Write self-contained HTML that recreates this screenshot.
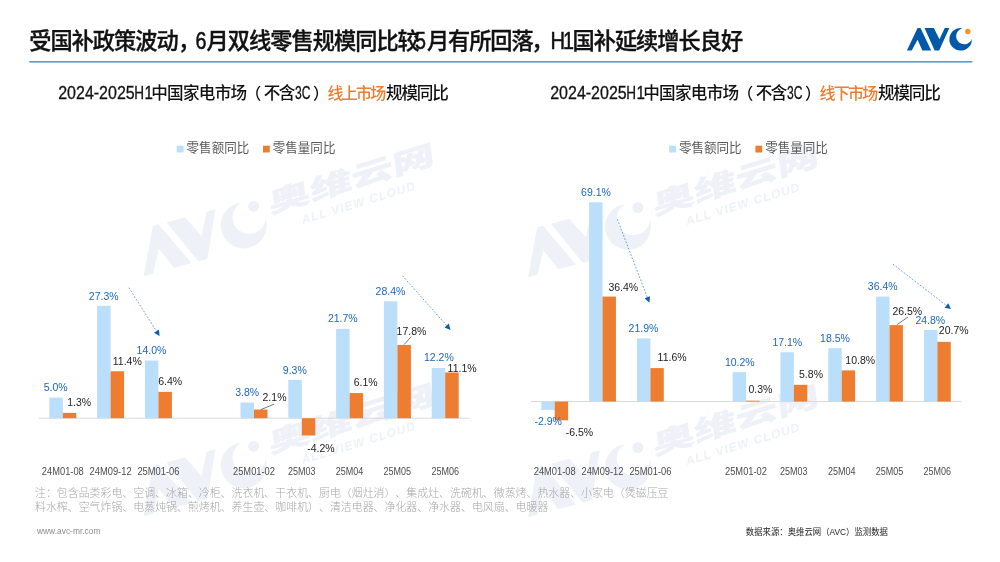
<!DOCTYPE html>
<html lang="zh-CN">
<head>
<meta charset="utf-8">
<title>受国补政策波动，6月双线零售规模同比较5月有所回落，H1国补延续增长良好</title>
<style>
html,body{margin:0;padding:0;background:#fff;}
body{width:1000px;height:562px;overflow:hidden;font-family:"Liberation Sans","Noto Sans CJK SC",sans-serif;}
svg{display:block;}
svg text{text-spacing-trim:space-all;}
</style>
</head>
<body>
<svg width="1000" height="562" viewBox="0 0 1000 562" font-family='"Liberation Sans","Noto Sans CJK SC",sans-serif'>
<rect width="1000" height="562" fill="#ffffff"/>
<g transform="translate(143.7,276) rotate(-17)" fill="#eef1f8">
<g transform="rotate(2) scale(2.04)"><polygon fill="#eef1f8" points="0,0 10.67,-22.5 13.6,-22.5 24.28,0 15.47,0 10.67,-10.93 4.8,0"/><polygon fill="#eef1f8" points="17.61,-22.5 26.95,-22.5 32.55,-11.46 37.88,-22.5 42.42,-22.5 32.28,0 27.75,0"/><path fill="#eef1f8" d="M55.70,-22.33 A11.25,11.25 0 1 0 64.99,-11.71 A8.1,8.1 0 1 1 55.70,-22.33 Z"/><circle fill="#eef1f8" cx="60.9" cy="-19.1" r="2.7"/></g>
<text transform="translate(139,-22.5) skewX(-10)" font-size="27" font-weight="900" fill="#eef1f8" stroke="#eef1f8" stroke-width="0.3" textLength="173" lengthAdjust="spacingAndGlyphs">奥维云网</text>
<text x="167.5" y="-3.2" font-size="12" font-weight="700" font-style="italic" fill="#eef1f8" textLength="118" lengthAdjust="spacing">ALL VIEW CLOUD</text>
</g>
<g transform="translate(143.7,516) rotate(-17)" fill="#eef1f8">
<g transform="rotate(2) scale(2.04)"><polygon fill="#eef1f8" points="0,0 10.67,-22.5 13.6,-22.5 24.28,0 15.47,0 10.67,-10.93 4.8,0"/><polygon fill="#eef1f8" points="17.61,-22.5 26.95,-22.5 32.55,-11.46 37.88,-22.5 42.42,-22.5 32.28,0 27.75,0"/><path fill="#eef1f8" d="M55.70,-22.33 A11.25,11.25 0 1 0 64.99,-11.71 A8.1,8.1 0 1 1 55.70,-22.33 Z"/><circle fill="#eef1f8" cx="60.9" cy="-19.1" r="2.7"/></g>
<text transform="translate(139,-22.5) skewX(-10)" font-size="27" font-weight="900" fill="#eef1f8" stroke="#eef1f8" stroke-width="0.3" textLength="173" lengthAdjust="spacingAndGlyphs">奥维云网</text>
<text x="167.5" y="-3.2" font-size="12" font-weight="700" font-style="italic" fill="#eef1f8" textLength="118" lengthAdjust="spacing">ALL VIEW CLOUD</text>
</g>
<g transform="translate(528,277.3) rotate(-17)" fill="#eef1f8">
<g transform="rotate(2) scale(2.04)"><polygon fill="#eef1f8" points="0,0 10.67,-22.5 13.6,-22.5 24.28,0 15.47,0 10.67,-10.93 4.8,0"/><polygon fill="#eef1f8" points="17.61,-22.5 26.95,-22.5 32.55,-11.46 37.88,-22.5 42.42,-22.5 32.28,0 27.75,0"/><path fill="#eef1f8" d="M55.70,-22.33 A11.25,11.25 0 1 0 64.99,-11.71 A8.1,8.1 0 1 1 55.70,-22.33 Z"/><circle fill="#eef1f8" cx="60.9" cy="-19.1" r="2.7"/></g>
<text transform="translate(139,-22.5) skewX(-10)" font-size="27" font-weight="900" fill="#eef1f8" stroke="#eef1f8" stroke-width="0.3" textLength="173" lengthAdjust="spacingAndGlyphs">奥维云网</text>
<text x="167.5" y="-3.2" font-size="12" font-weight="700" font-style="italic" fill="#eef1f8" textLength="118" lengthAdjust="spacing">ALL VIEW CLOUD</text>
</g>
<g transform="translate(528,517.3) rotate(-17)" fill="#eef1f8">
<g transform="rotate(2) scale(2.04)"><polygon fill="#eef1f8" points="0,0 10.67,-22.5 13.6,-22.5 24.28,0 15.47,0 10.67,-10.93 4.8,0"/><polygon fill="#eef1f8" points="17.61,-22.5 26.95,-22.5 32.55,-11.46 37.88,-22.5 42.42,-22.5 32.28,0 27.75,0"/><path fill="#eef1f8" d="M55.70,-22.33 A11.25,11.25 0 1 0 64.99,-11.71 A8.1,8.1 0 1 1 55.70,-22.33 Z"/><circle fill="#eef1f8" cx="60.9" cy="-19.1" r="2.7"/></g>
<text transform="translate(139,-22.5) skewX(-10)" font-size="27" font-weight="900" fill="#eef1f8" stroke="#eef1f8" stroke-width="0.3" textLength="173" lengthAdjust="spacingAndGlyphs">奥维云网</text>
<text x="167.5" y="-3.2" font-size="12" font-weight="700" font-style="italic" fill="#eef1f8" textLength="118" lengthAdjust="spacing">ALL VIEW CLOUD</text>
</g>
<rect x="29.2" y="61" width="943.2" height="1.6" fill="#529dd6"/>
<text y="48.9" fill="#111" stroke="#111"><tspan x="29.3" font-size="22.2" font-weight="500" stroke-width="0.35" textLength="149.3" lengthAdjust="spacing">受国补政策波动</tspan><tspan x="178" font-size="22.2" font-weight="500" stroke-width="0.35">，</tspan><tspan x="195.6" font-size="24" stroke-width="0.5" textLength="11" lengthAdjust="spacingAndGlyphs">6</tspan><tspan x="206.5" font-size="22.2" font-weight="500" stroke-width="0.35" textLength="213.3" lengthAdjust="spacing">月双线零售规模同比较</tspan><tspan x="415.1" font-size="24" stroke-width="0.5" textLength="11" lengthAdjust="spacingAndGlyphs">5</tspan><tspan x="427.0" font-size="22.2" font-weight="500" stroke-width="0.35" textLength="106.6" lengthAdjust="spacing">月有所回落</tspan><tspan x="531.2" font-size="22.2" font-weight="500" stroke-width="0.35">，</tspan><tspan x="550.6" font-size="24" stroke-width="0.5" textLength="14.6" lengthAdjust="spacingAndGlyphs">H</tspan><tspan x="563.0" font-size="24" stroke-width="0.5" textLength="11" lengthAdjust="spacingAndGlyphs">1</tspan><tspan x="572.5" font-size="22.2" font-weight="500" stroke-width="0.35" textLength="170.6" lengthAdjust="spacing">国补延续增长良好</tspan></text>
<g transform="translate(906.9,50.6)"><title>AVC</title><polygon fill="#0058a9" points="0,0 10.67,-22.5 13.6,-22.5 24.28,0 15.47,0 10.67,-10.93 4.8,0"/><polygon fill="#0058a9" points="17.61,-22.5 26.95,-22.5 32.55,-11.46 37.88,-22.5 42.42,-22.5 32.28,0 27.75,0"/><path fill="#0058a9" d="M55.70,-22.33 A11.25,11.25 0 1 0 64.99,-11.71 A8.1,8.1 0 1 1 55.70,-22.33 Z"/><circle fill="#f7941d" cx="60.9" cy="-19.1" r="2.7"/></g>
<text fill="#111" stroke="#111"><tspan x="58.2" y="98.7" font-size="17.6" stroke-width="0.3" textLength="76.5" lengthAdjust="spacingAndGlyphs">2024-2025</tspan><tspan x="134.2" y="98.7" font-size="17.6" stroke-width="0.3" textLength="9.8" lengthAdjust="spacingAndGlyphs">H</tspan><tspan x="144.4" y="98.7" font-size="17.6" stroke-width="0.3" textLength="8.4" lengthAdjust="spacingAndGlyphs">1</tspan><tspan x="151.2" y="98.5" font-size="16.6" font-weight="500" fill="#111" stroke="none" textLength="96.0" lengthAdjust="spacing">中国家电市场</tspan><tspan x="245.2" y="98.5" font-size="16" font-weight="500" stroke="none">（</tspan><tspan x="263.7" y="98.5" font-size="16.6" font-weight="500" fill="#111" stroke="none" textLength="31.6" lengthAdjust="spacing">不含</tspan><tspan x="295.0" y="98.7" font-size="17.6" stroke-width="0.3" textLength="15.5" lengthAdjust="spacingAndGlyphs">3C</tspan><tspan x="313.0" y="98.5" font-size="16" font-weight="500" stroke="none">）</tspan><tspan x="327.6" y="98.5" font-size="16.0" font-weight="500" fill="#ed7d31" stroke="none" textLength="58.6" lengthAdjust="spacing">线上市场</tspan><tspan x="386.0" y="98.5" font-size="16.6" font-weight="500" fill="#111" stroke="none" textLength="62.8" lengthAdjust="spacing">规模同比</tspan></text>
<text fill="#111" stroke="#111"><tspan x="550.2" y="98.7" font-size="17.6" stroke-width="0.3" textLength="76.5" lengthAdjust="spacingAndGlyphs">2024-2025</tspan><tspan x="626.2" y="98.7" font-size="17.6" stroke-width="0.3" textLength="9.8" lengthAdjust="spacingAndGlyphs">H</tspan><tspan x="636.4" y="98.7" font-size="17.6" stroke-width="0.3" textLength="8.4" lengthAdjust="spacingAndGlyphs">1</tspan><tspan x="643.2" y="98.5" font-size="16.6" font-weight="500" fill="#111" stroke="none" textLength="96.0" lengthAdjust="spacing">中国家电市场</tspan><tspan x="737.2" y="98.5" font-size="16" font-weight="500" stroke="none">（</tspan><tspan x="755.7" y="98.5" font-size="16.6" font-weight="500" fill="#111" stroke="none" textLength="31.6" lengthAdjust="spacing">不含</tspan><tspan x="787.0" y="98.7" font-size="17.6" stroke-width="0.3" textLength="15.5" lengthAdjust="spacingAndGlyphs">3C</tspan><tspan x="805.0" y="98.5" font-size="16" font-weight="500" stroke="none">）</tspan><tspan x="819.6" y="98.5" font-size="16.0" font-weight="500" fill="#ed7d31" stroke="none" textLength="58.6" lengthAdjust="spacing">线下市场</tspan><tspan x="878.0" y="98.5" font-size="16.6" font-weight="500" fill="#111" stroke="none" textLength="62.8" lengthAdjust="spacing">规模同比</tspan></text>
<rect x="176.8" y="145.7" width="6.8" height="6.8" fill="#bbdefb"/>
<text x="186.6" y="152.3" font-size="12.6" fill="#5a5a5a" textLength="62.6" lengthAdjust="spacingAndGlyphs">零售额同比</text>
<rect x="263" y="145.7" width="6.8" height="6.8" fill="#ed7d31"/>
<text x="272.8" y="152.3" font-size="12.6" fill="#5a5a5a" textLength="62.6" lengthAdjust="spacingAndGlyphs">零售量同比</text>
<rect x="669.2" y="145.7" width="6.8" height="6.8" fill="#bbdefb"/>
<text x="678.9" y="152.3" font-size="12.6" fill="#5a5a5a" textLength="62.6" lengthAdjust="spacingAndGlyphs">零售额同比</text>
<rect x="755.4" y="145.7" width="6.8" height="6.8" fill="#ed7d31"/>
<text x="765.2" y="152.3" font-size="12.6" fill="#5a5a5a" textLength="62.6" lengthAdjust="spacingAndGlyphs">零售量同比</text>
<rect x="38.9" y="417.7" width="430.2" height="1" fill="#d9d9d9"/>
<rect x="49.30" y="397.62" width="13.5" height="20.59" fill="#bbdefb"/>
<rect x="62.80" y="412.85" width="13.5" height="5.35" fill="#ed7d31"/>
<rect x="97.10" y="305.81" width="13.5" height="112.39" fill="#bbdefb"/>
<rect x="110.60" y="371.27" width="13.5" height="46.93" fill="#ed7d31"/>
<rect x="144.90" y="360.56" width="13.5" height="57.64" fill="#bbdefb"/>
<rect x="158.40" y="391.85" width="13.5" height="26.35" fill="#ed7d31"/>
<rect x="240.50" y="402.56" width="13.5" height="15.64" fill="#bbdefb"/>
<rect x="254.00" y="409.55" width="13.5" height="8.65" fill="#ed7d31"/>
<rect x="288.30" y="379.91" width="13.5" height="38.29" fill="#bbdefb"/>
<rect x="301.80" y="418.20" width="13.5" height="17.29" fill="#ed7d31"/>
<rect x="336.10" y="328.86" width="13.5" height="89.34" fill="#bbdefb"/>
<rect x="349.60" y="393.09" width="13.5" height="25.11" fill="#ed7d31"/>
<rect x="383.90" y="301.28" width="13.5" height="116.92" fill="#bbdefb"/>
<rect x="397.40" y="344.92" width="13.5" height="73.28" fill="#ed7d31"/>
<rect x="431.70" y="367.97" width="13.5" height="50.23" fill="#bbdefb"/>
<rect x="445.20" y="372.50" width="13.5" height="45.70" fill="#ed7d31"/>
<rect x="530.8" y="401.05" width="430.46999999999997" height="1" fill="#d9d9d9"/>
<rect x="541.31" y="401.55" width="13.4" height="8.36" fill="#bbdefb"/>
<rect x="554.71" y="401.55" width="13.4" height="18.75" fill="#ed7d31"/>
<rect x="589.14" y="202.27" width="13.4" height="199.28" fill="#bbdefb"/>
<rect x="602.54" y="296.57" width="13.4" height="104.98" fill="#ed7d31"/>
<rect x="636.98" y="338.39" width="13.4" height="63.16" fill="#bbdefb"/>
<rect x="650.38" y="368.10" width="13.4" height="33.45" fill="#ed7d31"/>
<rect x="732.63" y="372.13" width="13.4" height="29.42" fill="#bbdefb"/>
<rect x="746.03" y="400.68" width="13.4" height="0.87" fill="#ed7d31"/>
<rect x="780.47" y="352.23" width="13.4" height="49.32" fill="#bbdefb"/>
<rect x="793.87" y="384.82" width="13.4" height="16.73" fill="#ed7d31"/>
<rect x="828.29" y="348.20" width="13.4" height="53.35" fill="#bbdefb"/>
<rect x="841.69" y="370.40" width="13.4" height="31.15" fill="#ed7d31"/>
<rect x="876.12" y="296.57" width="13.4" height="104.98" fill="#bbdefb"/>
<rect x="889.52" y="325.12" width="13.4" height="76.43" fill="#ed7d31"/>
<rect x="923.96" y="330.03" width="13.4" height="71.52" fill="#bbdefb"/>
<rect x="937.36" y="341.85" width="13.4" height="59.70" fill="#ed7d31"/>
<text x="55.6" y="390.9" font-size="10.5" fill="#1b67bd" text-anchor="middle">5.0%</text>
<text x="103.7" y="299.7" font-size="10.5" fill="#1b67bd" text-anchor="middle">27.3%</text>
<text x="151.5" y="354.4" font-size="10.5" fill="#1b67bd" text-anchor="middle">14.0%</text>
<text x="247.2" y="395.9" font-size="10.5" fill="#1b67bd" text-anchor="middle">3.8%</text>
<text x="294.8" y="373.5" font-size="10.5" fill="#1b67bd" text-anchor="middle">9.3%</text>
<text x="342.8" y="322.3" font-size="10.5" fill="#1b67bd" text-anchor="middle">21.7%</text>
<text x="390.5" y="295.1" font-size="10.5" fill="#1b67bd" text-anchor="middle">28.4%</text>
<text x="438.9" y="361.3" font-size="10.5" fill="#1b67bd" text-anchor="middle">12.2%</text>
<text x="79.2" y="406.3" font-size="10.5" fill="#1c1c1c" text-anchor="middle">1.3%</text>
<text x="127.3" y="365.0" font-size="10.5" fill="#1c1c1c" text-anchor="middle">11.4%</text>
<text x="170.2" y="384.9" font-size="10.5" fill="#1c1c1c" text-anchor="middle">6.4%</text>
<text x="274.5" y="400.7" font-size="10.5" fill="#1c1c1c" text-anchor="middle">2.1%</text>
<text x="321" y="452.4" font-size="10.5" fill="#1c1c1c" text-anchor="middle">-4.2%</text>
<text x="365.7" y="386.3" font-size="10.5" fill="#1c1c1c" text-anchor="middle">6.1%</text>
<text x="411.5" y="335.4" font-size="10.5" fill="#1c1c1c" text-anchor="middle">17.8%</text>
<text x="462.1" y="371.6" font-size="10.5" fill="#1c1c1c" text-anchor="middle">11.1%</text>
<text x="548.2" y="424.9" font-size="10.5" fill="#1b67bd" text-anchor="middle">-2.9%</text>
<text x="596" y="195.7" font-size="10.5" fill="#1b67bd" text-anchor="middle">69.1%</text>
<text x="643.5" y="332.3" font-size="10.5" fill="#1b67bd" text-anchor="middle">21.9%</text>
<text x="739.8" y="365.9" font-size="10.5" fill="#1b67bd" text-anchor="middle">10.2%</text>
<text x="787.3" y="345.7" font-size="10.5" fill="#1b67bd" text-anchor="middle">17.1%</text>
<text x="835" y="342.0" font-size="10.5" fill="#1b67bd" text-anchor="middle">18.5%</text>
<text x="882.7" y="290.0" font-size="10.5" fill="#1b67bd" text-anchor="middle">36.4%</text>
<text x="930.3" y="323.6" font-size="10.5" fill="#1b67bd" text-anchor="middle">24.8%</text>
<text x="579.5" y="435.6" font-size="10.5" fill="#1c1c1c" text-anchor="middle">-6.5%</text>
<text x="623.3" y="290.6" font-size="10.5" fill="#1c1c1c" text-anchor="middle">36.4%</text>
<text x="672.1" y="361.0" font-size="10.5" fill="#1c1c1c" text-anchor="middle">11.6%</text>
<text x="760.4" y="393.1" font-size="10.5" fill="#1c1c1c" text-anchor="middle">0.3%</text>
<text x="811" y="377.7" font-size="10.5" fill="#1c1c1c" text-anchor="middle">5.8%</text>
<text x="860.2" y="363.8" font-size="10.5" fill="#1c1c1c" text-anchor="middle">10.8%</text>
<text x="907.3" y="314.5" font-size="10.5" fill="#1c1c1c" text-anchor="middle">26.5%</text>
<text x="953.7" y="334.4" font-size="10.5" fill="#1c1c1c" text-anchor="middle">20.7%</text>
<line x1="260.9" y1="409.6" x2="274.0" y2="404.2" stroke="#404040" stroke-width="0.7"/>
<line x1="404.1" y1="344.6" x2="411.2" y2="336.6" stroke="#404040" stroke-width="0.7"/>
<line x1="896.9" y1="324.7" x2="908" y2="317.1" stroke="#404040" stroke-width="0.7"/>
<line x1="128.9" y1="287.7" x2="156.5" y2="331.2" stroke="#3a85d4" stroke-width="0.75" stroke-dasharray="1.8 1.6"/>
<polygon points="159.6,336.1 154.0,332.8 158.9,329.6" fill="#0d5bb5"/>
<line x1="402.5" y1="275.8" x2="446.7" y2="325.6" stroke="#3a85d4" stroke-width="0.75" stroke-dasharray="1.8 1.6"/>
<polygon points="450.5,329.9 444.5,327.5 448.8,323.6" fill="#0d5bb5"/>
<line x1="617.3" y1="219.2" x2="647.3" y2="297.3" stroke="#3a85d4" stroke-width="0.75" stroke-dasharray="1.8 1.6"/>
<polygon points="649.4,302.7 644.6,298.3 650.0,296.2" fill="#0d5bb5"/>
<line x1="893" y1="264.2" x2="946.4" y2="305.5" stroke="#3a85d4" stroke-width="0.75" stroke-dasharray="1.8 1.6"/>
<polygon points="951,309 944.6,307.7 948.2,303.2" fill="#0d5bb5"/>
<text x="41.8" y="474.5" font-size="10.5" fill="#4d4d4d" textLength="42" lengthAdjust="spacingAndGlyphs">24M01-08</text>
<text x="89.6" y="474.5" font-size="10.5" fill="#4d4d4d" textLength="42" lengthAdjust="spacingAndGlyphs">24M09-12</text>
<text x="137.4" y="474.5" font-size="10.5" fill="#4d4d4d" textLength="42" lengthAdjust="spacingAndGlyphs">25M01-06</text>
<text x="233.0" y="474.5" font-size="10.5" fill="#4d4d4d" textLength="42" lengthAdjust="spacingAndGlyphs">25M01-02</text>
<text x="288.0" y="474.5" font-size="10.5" fill="#4d4d4d" textLength="27.5" lengthAdjust="spacingAndGlyphs">25M03</text>
<text x="335.8" y="474.5" font-size="10.5" fill="#4d4d4d" textLength="27.5" lengthAdjust="spacingAndGlyphs">25M04</text>
<text x="383.6" y="474.5" font-size="10.5" fill="#4d4d4d" textLength="27.5" lengthAdjust="spacingAndGlyphs">25M05</text>
<text x="431.4" y="474.5" font-size="10.5" fill="#4d4d4d" textLength="27.5" lengthAdjust="spacingAndGlyphs">25M06</text>
<text x="533.7" y="474.5" font-size="10.5" fill="#4d4d4d" textLength="42" lengthAdjust="spacingAndGlyphs">24M01-08</text>
<text x="581.5" y="474.5" font-size="10.5" fill="#4d4d4d" textLength="42" lengthAdjust="spacingAndGlyphs">24M09-12</text>
<text x="629.4" y="474.5" font-size="10.5" fill="#4d4d4d" textLength="42" lengthAdjust="spacingAndGlyphs">25M01-06</text>
<text x="725.0" y="474.5" font-size="10.5" fill="#4d4d4d" textLength="42" lengthAdjust="spacingAndGlyphs">25M01-02</text>
<text x="780.1" y="474.5" font-size="10.5" fill="#4d4d4d" textLength="27.5" lengthAdjust="spacingAndGlyphs">25M03</text>
<text x="827.9" y="474.5" font-size="10.5" fill="#4d4d4d" textLength="27.5" lengthAdjust="spacingAndGlyphs">25M04</text>
<text x="875.8" y="474.5" font-size="10.5" fill="#4d4d4d" textLength="27.5" lengthAdjust="spacingAndGlyphs">25M05</text>
<text x="923.6" y="474.5" font-size="10.5" fill="#4d4d4d" textLength="27.5" lengthAdjust="spacingAndGlyphs">25M06</text>
<text x="35" y="497.3" font-size="10.93" fill="#a6a6a6" font-weight="300">注：包含品类彩电、空调、冰箱、冷柜、洗衣机、干衣机、厨电（烟灶消）、集成灶、洗碗机、微蒸烤、热水器、小家电（煲磁压豆</text>
<text x="35" y="510.7" font-size="10.93" fill="#a6a6a6" font-weight="300">料水榨、空气炸锅、电蒸炖锅、煎烤机、养生壶、咖啡机）、清洁电器、净化器、净水器、电风扇、电暖器</text>
<text x="37" y="533.5" font-size="8.2" fill="#8c8c8c" textLength="63.4" lengthAdjust="spacingAndGlyphs">www.avc-mr.com</text>
<text x="745.8" y="534.6" font-size="8.6" fill="#222" textLength="142.2" lengthAdjust="spacingAndGlyphs">数据来源：奥维云网（AVC）监测数据</text>
</svg>
</body>
</html>
